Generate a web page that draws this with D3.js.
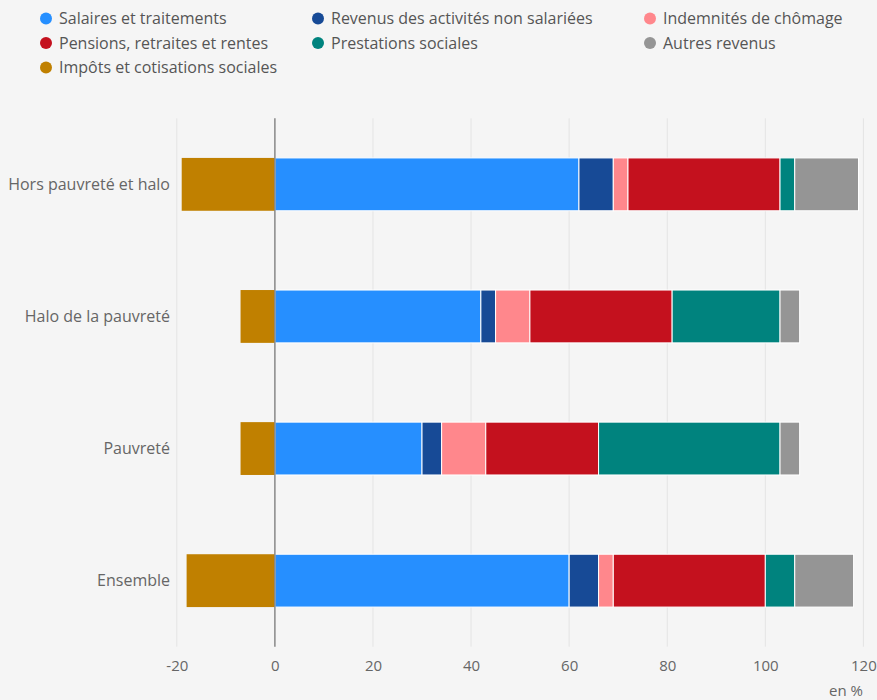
<!DOCTYPE html>
<html lang="fr">
<head>
<meta charset="utf-8">
<script src="https://cdn.jsdelivr.net/npm/d3@7"></script>
<style>
  html, body { margin: 0; padding: 0; background: #f5f5f5; }
  svg { display: block; font-family: "Open Sans", sans-serif; }
</style>
</head>
<body>
<svg id="chart" width="877" height="700"></svg>
<script>
// Population groups (rows)
const categories = ["Hors pauvreté et halo", "Halo de la pauvreté", "Pauvreté", "Ensemble"];

// Income components, in % of disposable income
const salaires    = [62, 42, 30, 60];
const revenusNS   = [7, 3, 4, 6];
const chomage     = [3, 7, 9, 3];
const pensions    = [31, 29, 23, 31];
const prestations = [3, 22, 37, 6];
const autres      = [13, 4, 4, 12];
const impots      = [-19, -7, -7, -18];

const seriesNames = [
  "Salaires et traitements",
  "Revenus des activités non salariées",
  "Indemnités de chômage",
  "Pensions, retraites et rentes",
  "Prestations sociales",
  "Autres revenus",
  "Impôts et cotisations sociales"
];
const seriesColors = ["#268fff", "#174a96", "#ff878c", "#c4111e", "#00837e", "#959595", "#c08000"];
const seriesValues = [salaires, revenusNS, chomage, pensions, prestations, autres, impots];

const xTicks = [-20, 0, 20, 40, 60, 80, 100, 120];

const svg = d3.select("#chart");
const margin = { left: 176.8, right: 877 - 863.4, top: 118.3, bottom: 700 - 646.7 };
const W = 877, H = 700;

const x = d3.scaleLinear().domain([-20, 120]).range([margin.left, W - margin.right]);
const y = d3.scaleBand().domain(categories)
  .range([margin.top, H - margin.bottom])
  .paddingInner(0.6).paddingOuter(0.3);

// Grid lines
svg.append("g").selectAll("line").data(xTicks.filter(t => t !== 0)).join("line")
  .attr("x1", d => x(d)).attr("x2", d => x(d))
  .attr("y1", margin.top).attr("y2", H - margin.bottom)
  .attr("stroke", "#e4e4e4").attr("stroke-width", 1);

// Stacked segments: positive parts stack rightward from 0, taxes extend left
const rows = categories.map((c, i) => {
  let pos = 0;
  const segs = [];
  seriesValues.forEach((vals, s) => {
    const v = vals[i];
    if (v >= 0) { segs.push({ s, x0: pos, x1: pos + v }); pos += v; }
    else { segs.push({ s, x0: v, x1: 0 }); }
  });
  return { c, segs };
});

const g = svg.append("g");
rows.forEach(r => {
  g.selectAll(null).data(r.segs).join("rect")
    .attr("x", d => x(d.x0))
    .attr("width", d => x(d.x1) - x(d.x0))
    .attr("y", y(r.c))
    .attr("height", y.bandwidth())
    .attr("fill", d => seriesColors[d.s])
    .attr("stroke", d => d.s === 6 ? "none" : "#ffffff")
    .attr("stroke-width", 1);
});

// Zero line
svg.append("line")
  .attr("x1", x(0)).attr("x2", x(0))
  .attr("y1", margin.top).attr("y2", H - margin.bottom)
  .attr("stroke", "#888").attr("stroke-width", 1.5);

// Category labels
svg.append("g").selectAll("text").data(categories).join("text")
  .attr("x", 170).attr("y", d => y(d) + y.bandwidth() / 2)
  .attr("dy", "0.35em").attr("text-anchor", "end")
  .attr("font-size", 16).attr("fill", "#666")
  .text(d => d);

// X axis tick labels
const xAxis = d3.axisBottom(x).tickValues(xTicks).tickSize(0).tickPadding(14)
  .tickFormat(d => d < 0 ? "-" + Math.abs(d) : d);
const ax = svg.append("g").attr("transform", `translate(0,${H - margin.bottom})`).call(xAxis);
ax.select(".domain").remove();
ax.selectAll("text").attr("font-size", 15).attr("fill", "#666")
  .attr("font-family", "Open Sans, sans-serif");

svg.append("text").attr("x", 863).attr("y", 696)
  .attr("text-anchor", "end").attr("font-size", 15).attr("fill", "#666")
  .text("en %");

// Legend, three columns
const colX = [46, 318, 650];
const rowY = [18.5, 43, 67.5];
const leg = svg.append("g");
seriesNames.forEach((name, k) => {
  const cx = colX[k % 3], cy = rowY[Math.floor(k / 3)];
  leg.append("circle").attr("cx", cx).attr("cy", cy).attr("r", 6).attr("fill", seriesColors[k]);
  leg.append("text").attr("x", cx + 13).attr("y", cy).attr("dy", "0.35em")
    .attr("font-size", 16).attr("fill", "#555").text(name);
});
</script>
</body>
</html>
